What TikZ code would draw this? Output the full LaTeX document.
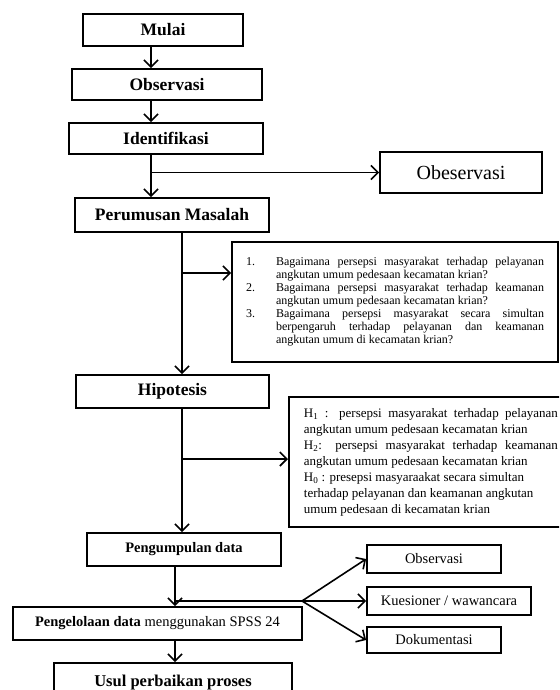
\documentclass[tikz,border=0pt]{standalone}
\usepackage{fontspec}
\setmainfont{Liberation Serif}
\usetikzlibrary{arrows.meta}
\tikzset{% 
  alur/.style = {
    x=1pt, y=-1pt, line width=1.6pt,
    every node/.style = {shape=rectangle, draw, line width=1.8pt,
      align=center, inner sep=0pt}
  },
  proses/.style = {font=\fontsize{17.5}{20}\selectfont\bfseries},
  sumber/.style = {font=\fontsize{14.5}{17}\selectfont},
  ket/.style = {align=justify, inner xsep=14pt},
  panah/.style = {-{Straight Barb[length=7pt,width=14pt]}}
}
\newcommand{\butir}[2]{\noindent\hangindent=30pt\hangafter=1\makebox[30pt][l]{#1}#2\par}

\begin{document}
\begin{tikzpicture}[alur]
  \useasboundingbox (0,0) rectangle (559,690);
  \clip (0,0) rectangle (559,690);
  \node[proses, minimum width=160pt, minimum height=32pt] (mulai) at (163,30) {Mulai};
  \node[proses, minimum width=190pt, minimum height=31pt] (obs) at (167,84.5) {Observasi};
  \node[proses, minimum width=194pt, minimum height=31pt] (iden) at (166,138.5) {Identifikasi};
  \node[minimum width=162pt, minimum height=41pt, font=\fontsize{20}{24}\selectfont] (obes) at (461,172.5) {Obeservasi};
  \node[proses, minimum width=194pt, minimum height=34pt] (rumus) at (172,215) {Perumusan Masalah};
  \node[ket, text width=298pt, minimum height=120pt, font=\fontsize{12}{13}\selectfont] (tanya) at (395,302) {%
    \hyphenpenalty=10000\relax
    \butir{1.}{Bagaimana persepsi masyarakat terhadap pelayanan angkutan umum pedesaan kecamatan krian?}%
    \butir{2.}{Bagaimana persepsi masyarakat terhadap keamanan angkutan umum pedesaan kecamatan krian?}%
    \butir{3.}{Bagaimana persepsi masyarakat secara simultan berpengaruh terhadap pelayanan dan keamanan angkutan umum di kecamatan krian?}};
  \node[proses, minimum width=193pt, minimum height=33pt] (hipo) at (172.5,391.5) {Hipotesis};
  \node[ket, anchor=west, text width=254pt, minimum height=130pt, inner xsep=15pt, font=\fontsize{13}{16}\selectfont] (hipoket) at (288,462) {%
    \hyphenpenalty=10000\relax
    \noindent H\textsubscript{1} : persepsi masyarakat terhadap pelayanan angkutan umum pedesaan kecamatan krian\par
    \noindent H\textsubscript{2}: persepsi masyarakat terhadap keamanan angkutan umum pedesaan kecamatan krian\par
    \noindent H\textsubscript{0} : presepsi masyaraakat secara simultan\newline
    terhadap pelayanan dan keamanan angkutan\newline
    umum pedesaan di kecamatan krian};
  \node[sumber, font=\fontsize{14.5}{17}\selectfont\bfseries, minimum width=194pt, minimum height=33pt] (kumpul) at (184,549.5) {Pengumpulan data};
  \node[sumber, minimum width=289pt, minimum height=33pt] (kelola) at (157.5,623.5) {\textbf{Pengelolaan data} menggunakan SPSS 24};
  \node[sumber, minimum width=134pt, minimum height=28pt] (obs2) at (434,559) {Observasi};
  \node[sumber, minimum width=164pt, minimum height=28pt] (kues) at (449,601) {Kuesioner / wawancara};
  \node[sumber, minimum width=134pt, minimum height=26pt] (doku) at (434,640) {Dokumentasi};
  \node[font=\fontsize{16.5}{20}\selectfont\bfseries, minimum width=238pt, minimum height=40pt] (usul) at (173,683) {Usul perbaikan proses};

  \coordinate (jalur) at (151,0);
  \coordinate (jalur2) at (182,0);
  \coordinate (jalur3) at (175,0);
  \coordinate (cabang) at (151,172.5);
  \coordinate (cabang2) at (182,273);
  \coordinate (cabang3) at (182,459);
  \coordinate (simpang) at (175,601);
  \coordinate (pusat) at (302,601);

  \draw[panah] (mulai.south -| jalur) -- (obs.north -| jalur);
  \draw[panah] (obs.south -| jalur) -- (iden.north -| jalur);
  \draw[panah] (iden.south -| jalur) -- (rumus.north -| jalur);
  \draw[panah] (cabang) -- (obes.west);
  \draw[panah] (rumus.south -| jalur2) -- (hipo.north -| jalur2);
  \draw[panah] (cabang2) -- (cabang2 -| tanya.west);
  \draw[panah] (hipo.south -| jalur2) -- (kumpul.north -| jalur2);
  \draw[panah] (cabang3) -- (cabang3 -| hipoket.west);
  \draw[panah] (kumpul.south -| jalur3) -- (kelola.north -| jalur3);
  \draw[panah] (simpang) -- (kues.west);
  \draw[panah] (pusat) -- (obs2.west);
  \draw[panah] (pusat) -- (doku.west);
  \draw[panah] (kelola.south -| jalur3) -- (usul.north -| jalur3);
\end{tikzpicture}
\end{document}
